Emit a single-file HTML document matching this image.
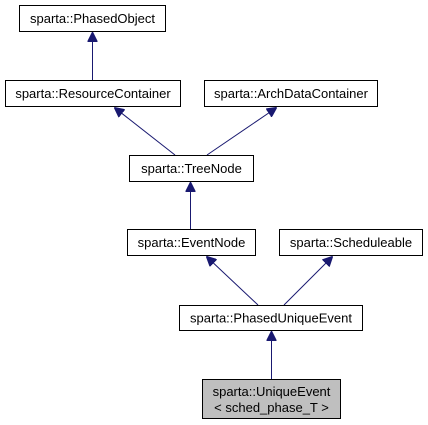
<!DOCTYPE html>
<html><head><meta charset="utf-8"><style>
html,body{margin:0;padding:0;background:#fff;}
svg{display:block;}
text{font-family:"Liberation Sans",Arial,sans-serif;font-size:13px;fill:#000;text-anchor:middle;}
</style></head><body>
<svg width="428" height="425" viewBox="0 0 428 425" xmlns="http://www.w3.org/2000/svg">
<defs>
<marker id="a" markerWidth="10" markerHeight="10" refX="9" refY="5" orient="auto" markerUnits="userSpaceOnUse">
<path d="M0,0 L10,5 L0,10 z" fill="#191970" stroke="#191970" stroke-width="1"/>
</marker>
</defs>
<g stroke="#191970" stroke-width="1" fill="none">
<line x1="92.5" y1="80" x2="92.5" y2="33" marker-end="url(#a)"/>
<line x1="175" y1="155" x2="115" y2="108" marker-end="url(#a)"/>
<line x1="207" y1="155" x2="276" y2="108" marker-end="url(#a)"/>
<line x1="190.5" y1="229" x2="190.5" y2="183" marker-end="url(#a)"/>
<line x1="258" y1="305" x2="207" y2="257" marker-end="url(#a)"/>
<line x1="284" y1="305" x2="332" y2="257" marker-end="url(#a)"/>
<line x1="271.5" y1="379" x2="271.5" y2="332" marker-end="url(#a)"/>
</g>
<g stroke="#000" stroke-width="1" fill="#fff">
<rect x="19.5" y="5.5" width="146" height="26"/>
<rect x="5.5" y="80.5" width="175" height="26"/>
<rect x="204.5" y="80.5" width="173" height="26"/>
<rect x="129.5" y="155.5" width="124" height="26"/>
<rect x="127.5" y="229.5" width="128" height="26"/>
<rect x="279.5" y="229.5" width="143" height="26"/>
<rect x="179.5" y="305.5" width="183" height="25"/>
<rect x="202.5" y="379.5" width="138" height="39" fill="#bfbfbf"/>
</g>
<text x="92.5" y="23">sparta::PhasedObject</text>
<text x="93" y="98">sparta::ResourceContainer</text>
<text x="291" y="98">sparta::ArchDataContainer</text>
<text x="191.5" y="173">sparta::TreeNode</text>
<text x="191.5" y="247">sparta::EventNode</text>
<text x="351" y="247">sparta::Scheduleable</text>
<text x="271" y="322.5">sparta::PhasedUniqueEvent</text>
<text x="271.5" y="396">sparta::UniqueEvent</text>
<text x="271.5" y="412">&lt; sched_phase_T &gt;</text>
</svg>
</body></html>
